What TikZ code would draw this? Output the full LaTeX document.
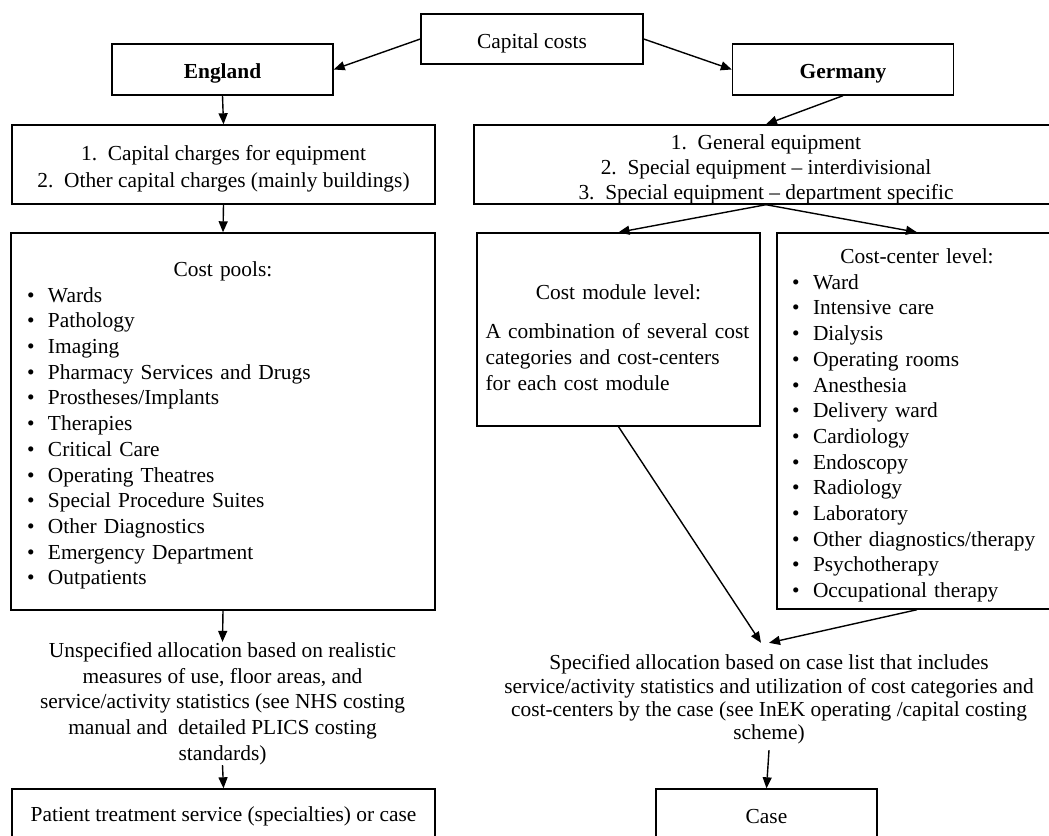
\documentclass[tikz,border=0pt]{standalone}
\usepackage{fontspec}
\setmainfont{Liberation Serif}
\usetikzlibrary{arrows.meta}

\newcommand{\boxfont}{\fontsize{10.7pt}{12.85pt}\selectfont}
\newcommand{\cpitem}[1]{\makebox[10.5pt][l]{\textbullet}#1}

\begin{document}
\begin{tikzpicture}[x=0.5pt,y=-0.5pt,
		every node/.style={font=\boxfont},
		box/.style={draw,line width=0.7pt,inner sep=0pt,align=center},
		head/.style={box,minimum width=110.5pt,minimum height=25.5pt,text height=11.4pt,text depth=2.3pt},
		lst/.style={draw,line width=0.7pt,inner sep=0pt},
		arr/.style={line width=0.7pt,-{Triangle[length=5.5pt,width=4.5pt]}}]
				\clip (0,0) rectangle (1049,835);
				
				\node[head,minimum width=111pt,minimum height=25pt] (capital) at (532,39) {Capital costs};
				\node[head,font=\boxfont\bfseries] (england) at (222.5,69.5) {England};
				\node[head,font=\boxfont\bfseries] (germany) at (843,69.5) {Germany};
				
				\node[box,minimum width=211.5pt,minimum height=39.5pt] (engcharges) at (223.5,164.5)
				{\rule{0pt}{11.4pt}1.\ \ Capital charges for equipment\\[0.6pt]2.\ \ Other capital charges (mainly buildings)};
				\node[box,minimum width=292pt,minimum height=39.5pt] (gerequip) at (766,164.5)
				{\rule{0pt}{11.9pt}1.\ \ General equipment\\[-0.3pt]2.\ \ Special equipment -- interdivisional\\[-0.3pt]3.\ \ Special equipment -- department specific};
				
				% cost pools (England)
				\node[lst,minimum width=212pt,minimum height=188.5pt,text width=196pt] (pools) at (223,421.5)
				{\centering\rule{0pt}{11.4pt}Cost pools:\par\raggedright
					\cpitem{Wards}\\ \cpitem{Pathology}\\ \cpitem{Imaging}\\
					\cpitem{Pharmacy Services and Drugs}\\ \cpitem{Prostheses/Implants}\\
					\cpitem{Therapies}\\ \cpitem{Critical Care}\\ \cpitem{Operating Theatres}\\
					\cpitem{Special Procedure Suites}\\ \cpitem{Other Diagnostics}\\
					\cpitem{Emergency Department}\\ \cpitem{Outpatients}};
				
				% cost module / cost-center (Germany)
				\node[lst,minimum width=141.5pt,minimum height=96.5pt,text width=133pt] (module) at (618.5,329.5)
				{\centering\rule{0pt}{15.4pt}Cost module level:\par\vspace{7pt}\raggedright
					A combination of several cost\\categories and cost-centers\\for each cost module};
				\node[lst,minimum width=140pt,minimum height=188pt,text width=125pt] (centers) at (917,421)
				{\centering\rule{0pt}{11.9pt}Cost-center level:\par\raggedright
					\cpitem{Ward}\\ \cpitem{Intensive care}\\ \cpitem{Dialysis}\\
					\cpitem{Operating rooms}\\ \cpitem{Anesthesia}\\ \cpitem{Delivery ward}\\
					\cpitem{Cardiology}\\ \cpitem{Endoscopy}\\ \cpitem{Radiology}\\
					\cpitem{Laboratory}\\ \cpitem{Other diagnostics/therapy}\\
					\cpitem{Psychotherapy}\\ \cpitem{Occupational therapy}};
				
				\node[align=center,inner sep=0pt] (unspec) at (222.5,703.5)
				{Unspecified allocation based on realistic\\measures of use, floor areas, and\\service/activity statistics (see NHS costing\\manual and\ \ detailed PLICS costing\\standards)};
				\node[align=center,inner xsep=0pt,inner ysep=2.75pt,font=\fontsize{10.7pt}{11.65pt}\selectfont] (specified) at (769,699.5)
				{Specified allocation based on case list that includes\\service/activity statistics and utilization of cost categories and\\cost-centers by the case (see InEK operating /capital costing\\scheme)};
				
				\node[box,minimum width=211.5pt,minimum height=27.5pt] (patient) at (223.5,816.5) {Patient treatment service (specialties) or case};
				\node[box,minimum width=110.5pt,minimum height=27.5pt] (case) at (766.5,816.5) {Case};
				
				\draw[arr] (capital.west) -- (england.east);
				\draw[arr] (capital.east) -- (germany.west);
				\draw[arr] (england.south) -- (engcharges.north);
				\draw[arr] (engcharges.south) -- (pools.north);
				\draw[arr] (germany.south) -- (gerequip.north);
				\draw[arr] (gerequip.south) -- (module.north);
				\draw[arr] (gerequip.south) -- (centers.north);
				\draw[arr] (pools.south) -- (unspec.north);
				\draw[arr] (unspec.south) -- (patient.north);
				\draw[arr] (module.south) -- ([xshift=-4pt,yshift=3pt]specified.north);
				\draw[arr] (centers.south) -- ([yshift=3pt]specified.north);
				\draw[arr] (specified.south) -- (case.north);
\end{tikzpicture}
\end{document}
